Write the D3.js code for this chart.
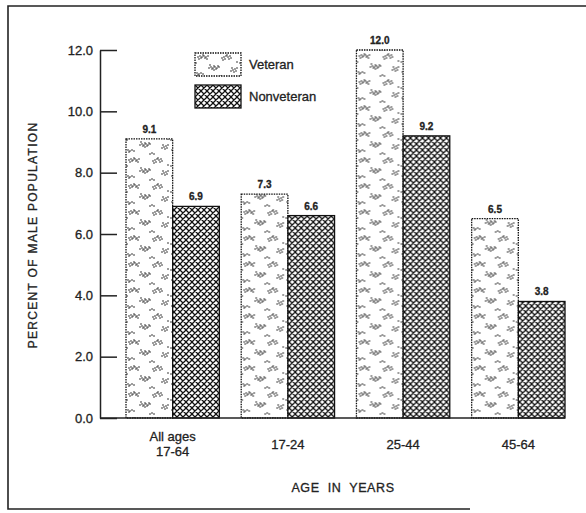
<!DOCTYPE html>
<html>
<head>
<meta charset="utf-8">
<script src="https://cdn.jsdelivr.net/npm/d3@7"></script>
<style>
  body { margin: 0; background: #fff; }
  svg { display: block; font-family: 'Liberation Sans', Arial, sans-serif; }
  text { stroke: #222; stroke-width: 0.3px; }
</style>
</head>
<body>
<svg width="586" height="513"></svg>
<script>
const groups = ['All ages|17-64', '17-24', '25-44', '45-64'];
const seriesNames = ['Veteran', 'Nonveteran'];
const veteran = [9.1, 7.3, 12.0, 6.5];
const nonveteran = [6.9, 6.6, 9.2, 3.8];
const yTicks = [0, 2, 4, 6, 8, 10, 12];

const svg = d3.select('svg');
const defs = svg.append('defs');

// cross hatch for nonveteran
const hatch = defs.append('pattern')
  .attr('id', 'hatch')
  .attr('patternUnits', 'userSpaceOnUse')
  .attr('width', 6)
  .attr('height', 6);
hatch.append('rect').attr('width', 6).attr('height', 6).attr('fill', '#fff');
hatch.append('path')
  .attr('d', 'M0,0L6,6M6,0L0,6M-1,5L1,7M5,-1L7,1M-1,1L1,-1M5,7L7,5')
  .attr('stroke', '#111')
  .attr('stroke-width', 1.25);

// stipple for veteran
const stip = defs.append('pattern')
  .attr('id', 'stipple')
  .attr('patternUnits', 'userSpaceOnUse')
  .attr('width', 44)
  .attr('height', 26);
stip.append('rect').attr('width', 44).attr('height', 26).attr('fill', '#fff');
const dots = [
  [3, 4], [5, 3], [7, 4], [9, 3], [11, 4], [13, 3], [6, 5], [10, 5], [8, 2], [4, 6], [12, 6],
  [27, 5], [29, 4], [31, 3], [33, 4], [35, 3], [30, 6], [34, 6], [32, 2], [28, 7], [36, 5],
  [14, 15], [16, 14], [18, 15], [20, 14], [22, 15], [17, 16], [21, 16], [19, 13], [23, 13],
  [15, 12], [19, 17], [24, 14],
  [36, 18], [38, 17], [40, 16], [39, 19], [37, 15], [41, 18], [42, 15],
  [2, 20], [4, 21], [6, 20], [3, 22], [8, 21], [24, 24], [26, 23], [28, 24], [1, 10], [42, 9]
];
stip.selectAll('circle')
  .data(dots)
  .enter()
  .append('circle')
  .attr('cx', d => d[0])
  .attr('cy', d => d[1])
  .attr('r', 0.8)
  .attr('fill', '#222');

const fills = { Veteran: 'url(#stipple)', Nonveteran: 'url(#hatch)' };

// frame
svg.append('path')
  .attr('d', 'M586,6H8V509H470')
  .attr('fill', 'none')
  .attr('stroke', '#222')
  .attr('stroke-width', 1.6);

const x = d3.scaleBand().domain(groups).range([126, 565]).paddingInner(0.19).paddingOuter(0);
const xs = d3.scaleBand().domain(seriesNames).range([0, x.bandwidth()]);
const y = d3.scaleLinear().domain([0, 12]).range([418, 50]);

const data = groups.map((g, i) => ({ group: g, values: [
  { key: 'Veteran', v: veteran[i] },
  { key: 'Nonveteran', v: nonveteran[i] }
] }));

const gBars = svg.append('g')
  .selectAll('g')
  .data(data)
  .enter()
  .append('g')
  .attr('transform', d => `translate(${x(d.group)},0)`);

gBars.selectAll('rect')
  .data(d => d.values)
  .enter()
  .append('rect')
  .attr('x', d => xs(d.key))
  .attr('y', d => y(d.v))
  .attr('width', xs.bandwidth())
  .attr('height', d => y(0) - y(d.v))
  .attr('fill', d => fills[d.key])
  .attr('stroke', '#111')
  .attr('stroke-width', 1.3)
  .attr('stroke-dasharray', d => d.key === 'Veteran' ? '1.5,1' : null);

gBars.selectAll('text')
  .data(d => d.values)
  .enter()
  .append('text')
  .attr('x', d => xs(d.key) + xs.bandwidth() / 2)
  .attr('y', d => y(d.v) - 6)
  .attr('text-anchor', 'middle')
  .attr('font-size', 10)
  .attr('font-weight', 'bold')
  .attr('fill', '#222')
  .text(d => d.v.toFixed(1));

// y axis
const yAxis = svg.append('g')
  .attr('transform', 'translate(100,0)')
  .call(d3.axisLeft(y)
    .tickValues(yTicks)
    .tickSizeInner(-17)
    .tickSizeOuter(0)
    .tickPadding(7)
    .tickFormat(d3.format('.1f')));
yAxis.select('.domain').attr('stroke', '#222').attr('stroke-width', 1.5);
yAxis.selectAll('.tick line').attr('stroke', '#222').attr('stroke-width', 1.5);
yAxis.selectAll('.tick text')
  .attr('font-size', 13)
  .attr('font-family', "'Liberation Sans', Arial, sans-serif")
  .attr('fill', '#222');

// baseline
svg.append('line')
  .attr('x1', 100).attr('x2', x.range()[1])
  .attr('y1', y(0)).attr('y2', y(0))
  .attr('stroke', '#222')
  .attr('stroke-width', 1.5);

// x labels
const xl = svg.append('g')
  .selectAll('text')
  .data(groups)
  .enter()
  .append('text')
  .attr('x', d => x(d) + x.bandwidth() / 2)
  .attr('y', d => d.includes('|') ? 441 : 449)
  .attr('text-anchor', 'middle')
  .attr('font-size', 13)
  .attr('fill', '#222');
xl.each(function (d) {
  const parts = d.split('|');
  const t = d3.select(this);
  parts.forEach((p, i) => {
    t.append('tspan')
      .attr('x', x(d) + x.bandwidth() / 2)
      .attr('dy', i === 0 ? 0 : 15)
      .text(p);
  });
});

svg.append('text')
  .attr('x', 343)
  .attr('y', 492)
  .attr('text-anchor', 'middle')
  .attr('font-size', 12.5)
  .attr('letter-spacing', 0.6)
  .attr('word-spacing', 4)
  .attr('fill', '#222')
  .text('AGE IN YEARS');

svg.append('text')
  .attr('transform', 'translate(37,235) rotate(-90)')
  .attr('text-anchor', 'middle')
  .attr('font-size', 12)
  .attr('letter-spacing', 1.3)
  .attr('fill', '#222')
  .text('PERCENT OF MALE POPULATION');

// legend
const legend = svg.append('g')
  .selectAll('g')
  .data(seriesNames)
  .enter()
  .append('g')
  .attr('transform', (d, i) => `translate(195,${53 + i * 32})`);
legend.append('rect')
  .attr('width', 46)
  .attr('height', 23)
  .attr('fill', d => fills[d])
  .attr('stroke', '#111')
  .attr('stroke-width', 1.3)
  .attr('stroke-dasharray', d => d === 'Veteran' ? '1.5,1' : null);
legend.append('text')
  .attr('x', 54)
  .attr('y', 16)
  .attr('font-size', 13)
  .attr('fill', '#222')
  .text(d => d);
</script>
</body>
</html>
